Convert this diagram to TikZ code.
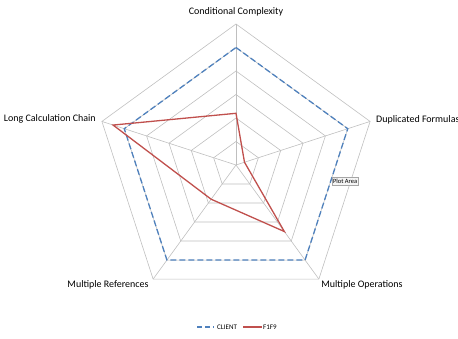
\documentclass[tikz,border=0pt]{standalone}
\usepackage{fontspec}
\setmainfont{Carlito}
\definecolor{gridgray}{HTML}{BFBFBF}
\definecolor{clientblue}{HTML}{4F81BD}
\definecolor{fred}{HTML}{C0504D}
\begin{document}
\begin{tikzpicture}[x=1pt,y=1pt,
  gridline/.style={draw=gridgray,line width=0.6pt},
  clientline/.style={draw=clientblue,line width=1.3pt,dash pattern=on 6pt off 3pt},
  fline/.style={draw=fred,line width=1.3pt,line join=miter},
  axislabel/.style={font=\fontsize{10}{11}\selectfont,inner sep=0pt},
  legendlabel/.style={font=\fontsize{7}{8}\selectfont,inner sep=0pt},
  tipbox/.style={draw=gray!70,fill=gray!8,font=\fontsize{6.5}{7}\selectfont,inner sep=0.8pt,minimum height=8pt}]
\useasboundingbox (0,0) rectangle (458,338);
\def\st{23.5}
\begin{scope}[shift={(236,173)}]
  \coordinate (ctr) at (0,0);
  \foreach \a/\n in {90/A,18/B,-54/C,-126/D,162/E}{
    \coordinate (\n) at (\a:6*\st);
    \draw[gridline] (ctr) -- (\n);
  }
  \foreach \i in {1,...,6}{
    \draw[gridline] (90:\i*\st) -- (18:\i*\st) -- (-54:\i*\st) -- (-126:\i*\st) -- (162:\i*\st) -- cycle;
  }
  % CLIENT series
  \coordinate (cA) at (90:5*\st);
  \coordinate (cB) at (18:5*\st);
  \coordinate (cC) at (-54:5*\st);
  \coordinate (cD) at (-126:5*\st);
  \coordinate (cE) at (162:5*\st);
  \draw[clientline] (cA) -- (cB) -- (cC) -- (cD) -- (cE) -- cycle;
  % F1F9 series
  \coordinate (fA) at (90:2.2*\st);
  \coordinate (fB) at (18:0.38*\st);
  \coordinate (fC) at (-54:3.5*\st);
  \coordinate (fD) at (-126:1.8*\st);
  \coordinate (fE) at (162:5.5*\st);
  \draw[fline] (fA) -- (fB) -- (fC) -- (fD) -- (fE) -- cycle;
\end{scope}
% axis labels
\node[axislabel] (lA) at (236,326) {Conditional Complexity};
\node[axislabel,anchor=west] (lB) at (376,218) {Duplicated Formulas};
\node[axislabel,anchor=east] (lE) at (96,219) {Long Calculation Chain};
\node[axislabel] (lD) at (108,53) {Multiple References};
\node[axislabel] (lC) at (362,53) {Multiple Operations};
% tooltip
\node[tipbox,anchor=north west] (tip) at (332,161) {Plot Area};
% legend
\coordinate (lg1a) at (197,11);
\coordinate (lg1b) at (214,11);
\draw[clientline,line width=1.1pt,dash pattern=on 5pt off 3pt] (lg1a) -- (lg1b);
\node[legendlabel,anchor=west] (lg1) at (217,11) {CLIENT};
\coordinate (lg2a) at (243,11);
\coordinate (lg2b) at (262,11);
\draw[fline,line width=1.1pt] (lg2a) -- (lg2b);
\node[legendlabel,anchor=west] (lg2) at (263,11) {F1F9};
\end{tikzpicture}
\end{document}
